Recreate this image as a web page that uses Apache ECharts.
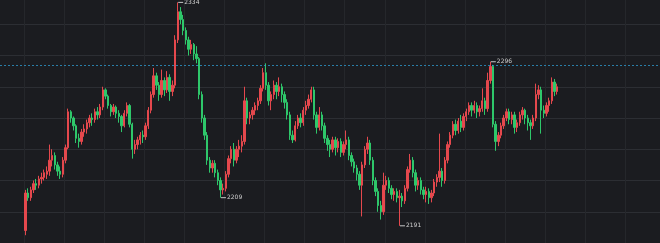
<!DOCTYPE html>
<html>
<head>
<meta charset="utf-8">
<script src="https://cdn.jsdelivr.net/npm/echarts@6/dist/echarts.min.js"></script>
<style>
html,body{margin:0;padding:0;background:#1b1c20;}
#c{width:660px;height:243px;}
</style>
</head>
<body>
<div id="c"></div>
<script>
// candle values (index order)
const opens = [2188,2212,2209,2214,2218,2217,2221,2222,2224,2226,2233,2236,2230,2226,2224,2233,2241,2264,2260,2255,2247,2245,2251,2253,2257,2260,2259,2264,2262,2267,2278,2274,2268,2264,2267,2263,2261,2255,2263,2268,2256,2240,2243,2246,2249,2248,2255,2265,2275,2287,2281,2275,2284,2278,2286,2277,2281,2310,2328,2323,2316,2310,2304,2307,2301,2298,2275,2260,2249,2233,2228,2231,2225,2220,2214,2215,2224,2234,2240,2233,2240,2242,2245,2271,2260,2262,2265,2268,2271,2279,2289,2281,2271,2275,2281,2277,2280,2275,2270,2262,2249,2246,2255,2260,2257,2265,2268,2272,2278,2262,2254,2262,2255,2247,2243,2240,2246,2241,2245,2238,2243,2246,2236,2232,2228,2224,2217,2230,2240,2244,2233,2220,2213,2204,2200,2217,2220,2215,2211,2213,2209,2210,2207,2215,2227,2233,2225,2217,2220,2214,2211,2213,2209,2212,2219,2222,2226,2220,2233,2243,2249,2256,2252,2258,2254,2261,2264,2268,2265,2268,2264,2266,2271,2266,2284,2293,2256,2245,2249,2255,2260,2264,2259,2262,2254,2257,2262,2265,2260,2257,2255,2260,2275,2278,2265,2263,2268,2271,2283,2277];
const closes = [2212,2209,2214,2218,2217,2221,2222,2225,2226,2233,2236,2230,2226,2224,2233,2241,2264,2260,2255,2247,2245,2251,2253,2257,2260,2259,2264,2262,2267,2278,2274,2268,2264,2267,2263,2261,2255,2263,2268,2256,2240,2243,2246,2249,2248,2255,2265,2275,2287,2281,2275,2284,2278,2286,2277,2281,2310,2328,2323,2316,2310,2304,2307,2301,2298,2275,2260,2249,2233,2228,2231,2225,2220,2214,2215,2224,2234,2240,2233,2240,2242,2245,2271,2260,2262,2265,2268,2271,2279,2289,2281,2271,2275,2281,2277,2280,2275,2270,2262,2249,2246,2255,2260,2257,2265,2268,2272,2278,2262,2254,2262,2255,2247,2243,2240,2246,2241,2245,2238,2243,2246,2236,2232,2228,2224,2217,2230,2240,2244,2233,2220,2213,2204,2200,2217,2220,2215,2211,2213,2209,2210,2207,2215,2227,2233,2225,2217,2220,2214,2211,2213,2209,2212,2219,2222,2226,2220,2233,2243,2249,2256,2252,2258,2254,2261,2264,2268,2265,2268,2264,2266,2271,2266,2284,2293,2256,2245,2249,2255,2260,2264,2259,2262,2254,2257,2262,2265,2260,2257,2255,2260,2275,2278,2265,2263,2268,2271,2283,2277,2280];
const lows = [2185,2207,2207,2212,2214,2215,2218,2220,2221,2223,2229,2227,2223,2221,2222,2231,2240,2257,2252,2244,2241,2243,2248,2250,2254,2255,2257,2259,2260,2265,2272,2266,2261,2262,2260,2257,2251,2254,2261,2254,2234,2237,2240,2243,2244,2246,2253,2263,2273,2278,2271,2273,2274,2276,2271,2274,2279,2308,2320,2313,2307,2300,2301,2297,2295,2272,2257,2246,2230,2225,2225,2222,2217,2209,2211,2213,2222,2231,2229,2231,2235,2238,2243,2256,2256,2259,2262,2265,2269,2277,2278,2268,2265,2272,2272,2274,2270,2266,2259,2246,2244,2245,2253,2254,2255,2262,2266,2270,2259,2250,2252,2252,2244,2239,2235,2238,2236,2238,2235,2236,2240,2233,2229,2225,2220,2214,2197,2228,2237,2230,2217,2210,2200,2195,2198,2214,2212,2208,2207,2206,2191,2203,2205,2213,2225,2222,2213,2214,2211,2208,2206,2205,2206,2210,2216,2219,2216,2218,2231,2241,2247,2249,2250,2251,2252,2258,2262,2261,2263,2260,2261,2264,2262,2264,2282,2254,2239,2242,2247,2253,2258,2256,2256,2250,2251,2255,2259,2256,2252,2246,2253,2258,2272,2250,2260,2261,2264,2269,2274,2275];
const highs = [2214,2215,2216,2220,2221,2223,2225,2227,2229,2243,2240,2238,2232,2229,2235,2243,2266,2265,2261,2256,2250,2253,2256,2259,2262,2263,2266,2267,2269,2280,2279,2275,2269,2269,2268,2265,2262,2265,2270,2269,2257,2246,2248,2251,2252,2257,2267,2277,2292,2289,2283,2291,2286,2290,2288,2284,2313,2334,2331,2326,2318,2312,2310,2308,2306,2299,2277,2262,2251,2235,2233,2233,2227,2222,2218,2226,2236,2242,2244,2242,2246,2249,2280,2273,2264,2267,2270,2273,2281,2292,2295,2283,2277,2284,2283,2286,2282,2277,2272,2264,2252,2258,2262,2263,2267,2271,2275,2280,2280,2264,2267,2264,2257,2249,2246,2248,2248,2247,2247,2245,2252,2248,2238,2234,2230,2226,2232,2242,2248,2246,2235,2222,2215,2207,2225,2223,2222,2217,2215,2215,2214,2212,2217,2229,2237,2235,2227,2222,2222,2216,2216,2215,2214,2221,2224,2250,2228,2235,2245,2251,2258,2259,2260,2262,2263,2266,2270,2270,2271,2270,2268,2279,2273,2289,2296,2294,2258,2251,2257,2262,2266,2266,2264,2264,2259,2264,2267,2266,2262,2259,2262,2282,2281,2280,2268,2270,2273,2286,2285,2282];
// annotated swing points
const markIndex = [57, 73, 140, 174];
const markValues = [2334, 2209, 2191, 2296];
const refLevel = 2294;

const LEAD = 9;        // empty slots before first candle
const TOTAL = 247;     // slots across the full width
const cats = Array.from({length: TOTAL}, (_, i) => String(i + 1));
const rows = opens.map((o, i) => [i + LEAD, o, closes[i], lows[i], highs[i]]);

const chart = echarts.init(document.getElementById('c'), null, {renderer: 'canvas'});
chart.setOption({
  backgroundColor: '#1b1c20',
  animation: false,
  grid: {left: 0, right: 0, top: -7, bottom: 0, outerBoundsMode: 'none', containLabel: false},
  xAxis: {
    type: 'category', data: cats, boundaryGap: true,
    axisLine: {show: false}, axisTick: {show: false}, axisLabel: {show: false},
    splitLine: {show: true, interval: (idx) => ((idx - LEAD) % 15 + 15) % 15 === 0,
      lineStyle: {color: '#25272b', width: 1}}
  },
  yAxis: {
    type: 'value', min: 2180, max: 2340, interval: 20,
    axisLine: {show: false}, axisTick: {show: false}, axisLabel: {show: false},
    splitLine: {show: true, lineStyle: {color: '#2c2e33', width: 1}}
  },
  series: [{
    type: 'candlestick',
    data: rows,
    encode: {x: 0, y: [1, 2, 3, 4]},
    barWidth: '70%',
    itemStyle: {color: '#e5484d', color0: '#2ec76a', borderColor: '#e5484d', borderColor0: '#2ec76a', borderWidth: 1},
    markPoint: {
      symbol: 'rect', symbolSize: [5, 1], symbolOffset: [3, 0],
      itemStyle: {color: '#c8c8c8'},
      label: {show: true, position: 'right', distance: 1, color: '#cfcfcf', fontSize: 6, fontFamily: 'DejaVu Sans',
        formatter: (p) => String(p.value)},
      data: markIndex.map((ix, k) => ({coord: [ix + LEAD, markValues[k]], value: markValues[k]}))
    },
    markLine: {
      silent: true, symbol: 'none', label: {show: false},
      lineStyle: {color: '#2f9fd6', type: [2, 2], width: 1, opacity: 0.75},
      data: [{yAxis: refLevel}]
    }
  }]
});
</script>
</body>
</html>
